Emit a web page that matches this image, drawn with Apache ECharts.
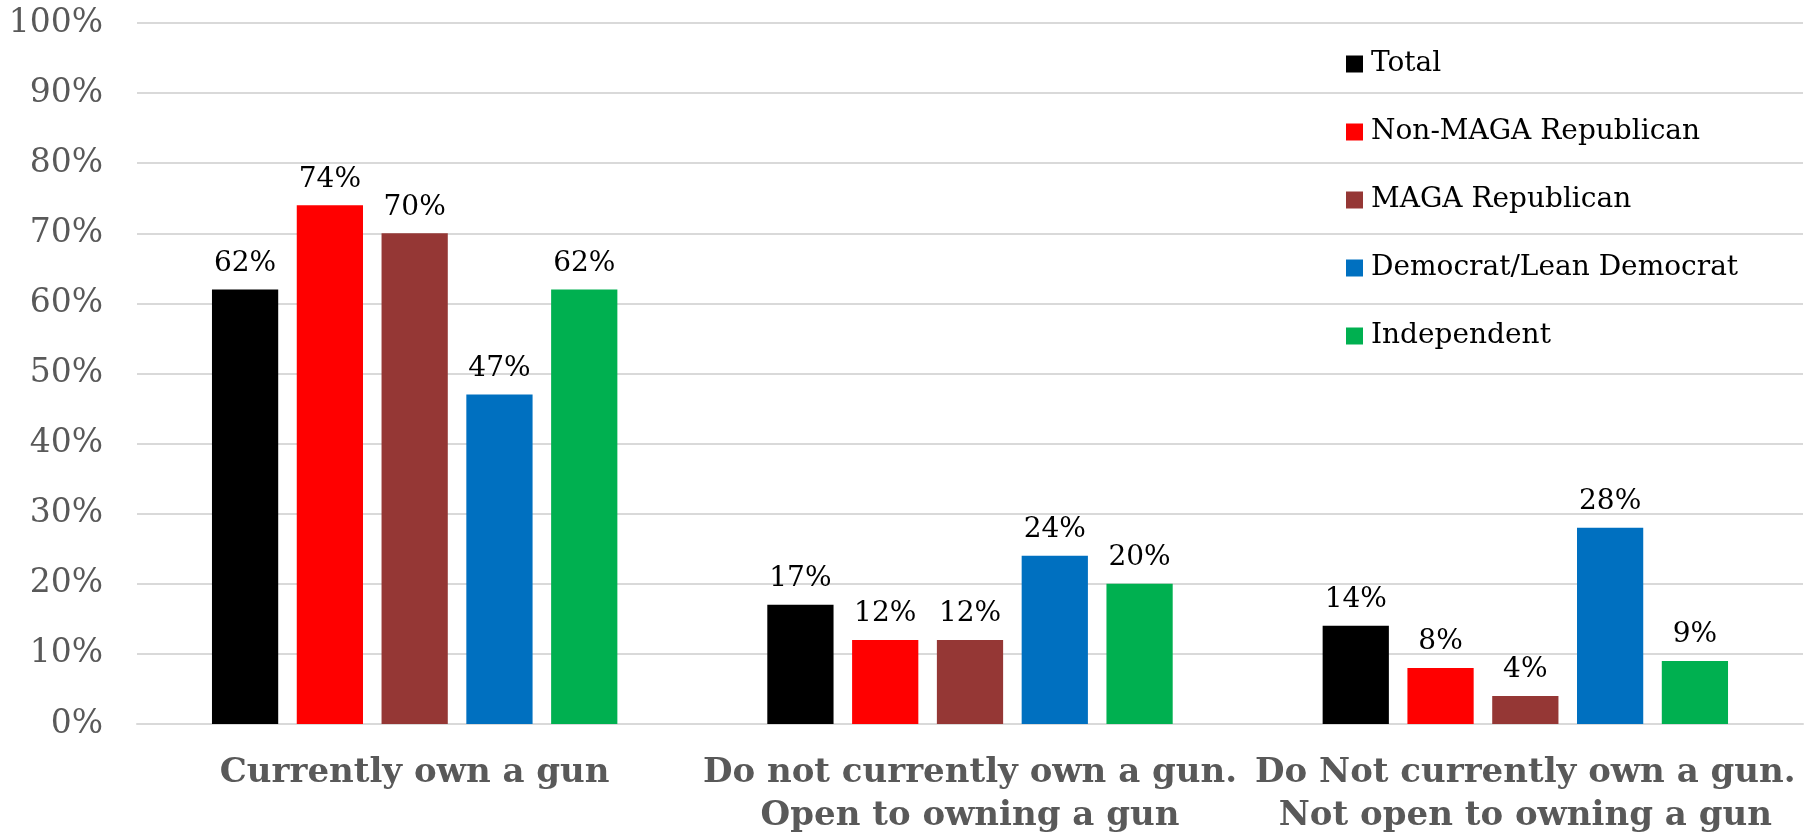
<!DOCTYPE html>
<html>
<head>
<meta charset="utf-8">
<script src="https://cdn.jsdelivr.net/npm/echarts@6/dist/echarts.min.js"></script>
<style>html,body{margin:0;padding:0;background:#fff}#c{width:1811px;height:832px}</style>
</head>
<body>
<div id="c"></div>
<script>
const categories = ["Currently own a gun", "Do not currently own a gun.\nOpen to owning a gun", "Do Not currently own a gun.\nNot open to owning a gun"];
const seriesNames = ["Total", "Non-MAGA Republican", "MAGA Republican", "Democrat/Lean Democrat", "Independent"];
const total = [62, 17, 14];
const nonMaga = [74, 12, 8];
const maga = [70, 12, 4];
const democrat = [47, 24, 28];
const independent = [62, 20, 9];
const colors = ["#000000", "#FF0000", "#953735", "#0070C0", "#00B050"];
const values = [total, nonMaga, maga, democrat, independent];

const FONT = "DejaVu Serif";
const chart = echarts.init(document.getElementById('c'));
chart.setOption({
  animation: false,
  backgroundColor: '#fff',
  grid: { left: 137, right: 8, top: 23, bottom: 108, containLabel: false, outerBoundsMode: 'none' },
  legend: {
    orient: 'vertical', left: 1341, top: 45,
    itemWidth: 17, itemHeight: 17, itemGap: 40, icon: 'rect',
    textStyle: { fontFamily: FONT, fontSize: 28, color: '#000', lineHeight: 28, padding: [0,0,0,3] },
    data: seriesNames
  },
  xAxis: {
    type: 'category', data: categories,
    axisLine: { lineStyle: { color: '#D9D9D9', width: 2 } },
    axisTick: { show: false },
    axisLabel: { interval: 0, margin: 28, fontFamily: FONT, fontWeight: 'bold', fontSize: 34, color: '#595959', lineHeight: 43 }
  },
  yAxis: {
    type: 'value', min: 0, max: 100, interval: 10,
    axisLabel: { formatter: '{value}%', fontFamily: FONT, fontSize: 33, color: '#595959', margin: 34 },
    splitLine: { lineStyle: { color: '#D9D9D9', width: 2 } },
    axisLine: { show: false }, axisTick: { show: false }
  },
  series: seriesNames.map((n, i) => ({
    name: n, type: 'bar', data: values[i],
    itemStyle: { color: colors[i] },
    barGap: '28%', barCategoryGap: '27%',
    label: { show: true, position: 'top', distance: 12, formatter: '{c}%', fontFamily: FONT, fontSize: 28, color: '#000' }
  }))
});
</script>
</body>
</html>
